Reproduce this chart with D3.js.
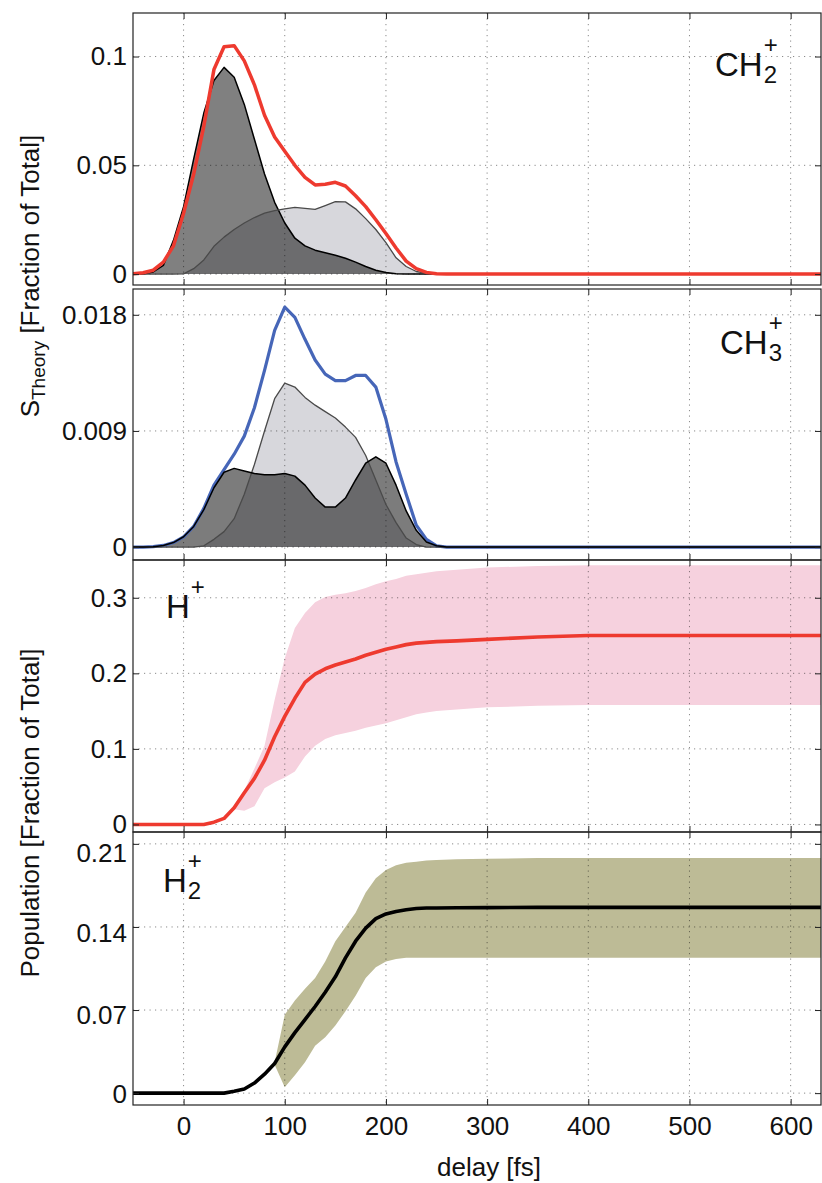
<!DOCTYPE html>
<html>
<head>
<meta charset="utf-8">
<script src="https://cdn.jsdelivr.net/npm/d3@7"></script>
<style>
  body { margin: 0; background: #fff; }
  svg { display: block; font-family: "Liberation Sans", Arial, Helvetica, sans-serif; }
</style>
</head>
<body>
<svg id="chart" width="822" height="1183"></svg>
<script>
// ---- data ----
// upper two panels: delay grid in fs
const delayA = [-50, -40, -30, -20, -10, 0, 10, 20, 30, 40, 50, 60, 70, 80, 90, 100, 110, 120, 130, 140,
                150, 160, 170, 180, 190, 200, 210, 220, 230, 240, 250, 260, 630];

const ch2Total = [0.0002, 0.0006, 0.0018, 0.0055, 0.013, 0.028, 0.046, 0.068, 0.094, 0.1045,
                  0.105, 0.098, 0.087, 0.073, 0.063, 0.0565, 0.050, 0.0445, 0.041, 0.0413,
                  0.0422, 0.0405, 0.036, 0.031, 0.025, 0.0187, 0.012, 0.006, 0.0025, 0.0008,
                  0.0002, 0, 0];
const ch2Dark = [0, 0, 0.001, 0.004, 0.0155, 0.031, 0.053, 0.074, 0.089, 0.095,
                 0.0905, 0.078, 0.062, 0.046, 0.033, 0.0235, 0.0165, 0.013, 0.011, 0.0098,
                 0.0087, 0.0073, 0.0055, 0.0035, 0.0018, 0.0007, 0.0002, 0, 0, 0,
                 0, 0, 0];
const ch2Light = [0, 0, 0, 0, 0, 0.0001, 0.0025, 0.0065, 0.0128, 0.017,
                  0.0205, 0.0235, 0.026, 0.028, 0.0292, 0.030, 0.0307, 0.0302, 0.0298, 0.0315,
                  0.0333, 0.0332, 0.030, 0.0255, 0.0205, 0.0145, 0.0075, 0.0035, 0.0012, 0.0003,
                  0, 0, 0];

const ch3Total = [0, 0, 0.00003, 0.00013, 0.00035, 0.0008, 0.0016, 0.003, 0.0048, 0.006,
                  0.0072, 0.0086, 0.0108, 0.0137, 0.0168, 0.0186, 0.0178, 0.0161, 0.0145, 0.0134,
                  0.0129, 0.0129, 0.0133, 0.0133, 0.0124, 0.0099, 0.0066, 0.0041, 0.0017, 0.0006,
                  0.0001, 0, 0];
const ch3Dark = [0, 0, 0.00003, 0.00013, 0.00035, 0.0008, 0.0016, 0.0029, 0.0046, 0.0058,
                 0.0061, 0.0059, 0.0057, 0.0056, 0.0056, 0.0057, 0.0055, 0.0048, 0.0038, 0.0031,
                 0.0031, 0.0038, 0.0052, 0.0065, 0.007, 0.0065, 0.0048, 0.0028, 0.0013, 0.0004,
                 0.0001, 0, 0];
const ch3Light = [0, 0, 0, 0, 0, 0, 0, 0.0001, 0.0006, 0.0012,
                  0.0022, 0.0041, 0.0064, 0.009, 0.0115, 0.0127, 0.0124, 0.0116, 0.011, 0.0105,
                  0.01, 0.0093, 0.0085, 0.0071, 0.0052, 0.0033, 0.0019, 0.0007, 0.0002, 0,
                  0, 0, 0];

// lower two panels: delay grid in fs
const delayB = [-50, -40, -30, -20, -10, 0, 10, 20, 30, 40, 50, 60, 70, 80, 90, 100, 110, 120, 130, 140,
                150, 160, 170, 180, 190, 200, 210, 220, 230, 240, 250, 270, 300, 350, 400, 500, 630];

const hLine = [0, 0, 0, 0, 0, 0, 0, 0, 0.003, 0.008,
               0.022, 0.042, 0.061, 0.085, 0.116, 0.143, 0.167, 0.188, 0.199, 0.206,
               0.211, 0.215, 0.219, 0.224, 0.228, 0.232, 0.235, 0.238, 0.24, 0.241,
               0.242, 0.243, 0.245, 0.248, 0.25, 0.25, 0.25];
const hUpper = [null, null, null, null, null, null, null, null, null, null,
                0.024, 0.045, 0.074, 0.104, 0.165, 0.22, 0.26, 0.28, 0.294, 0.301,
                0.304, 0.306, 0.309, 0.313, 0.318, 0.322, 0.325, 0.329, 0.331, 0.333,
                0.335, 0.337, 0.34, 0.342, 0.343, 0.343, 0.343];
const hLower = [null, null, null, null, null, null, null, null, null, null,
                0.02, 0.018, 0.024, 0.048, 0.056, 0.062, 0.07, 0.09, 0.104, 0.113,
                0.118, 0.121, 0.124, 0.128, 0.131, 0.134, 0.138, 0.142, 0.146, 0.148,
                0.15, 0.152, 0.155, 0.157, 0.158, 0.158, 0.158];

const h2Line = [0, 0, 0, 0, 0, 0, 0, 0, 0, 0,
                0.0015, 0.0035, 0.0085, 0.016, 0.025, 0.039, 0.051, 0.062, 0.073, 0.085,
                0.098, 0.114, 0.128, 0.139, 0.147, 0.151, 0.153, 0.1545, 0.1555, 0.156,
                0.156, 0.1562, 0.1563, 0.1565, 0.1565, 0.1565, 0.1565];
const h2Upper = [null, null, null, null, null, null, null, null, null, null,
                 null, null, null, null, 0.026, 0.066, 0.078, 0.088, 0.097, 0.111,
                 0.128, 0.14, 0.152, 0.169, 0.181, 0.188, 0.192, 0.194, 0.195, 0.196,
                 0.1965, 0.197, 0.1975, 0.198, 0.198, 0.198, 0.198];
const h2Lower = [null, null, null, null, null, null, null, null, null, null,
                 null, null, null, null, 0.024, 0.005, 0.015, 0.026, 0.04, 0.047,
                 0.057, 0.069, 0.082, 0.097, 0.106, 0.111, 0.113, 0.114, 0.114, 0.114,
                 0.114, 0.114, 0.114, 0.114, 0.114, 0.114, 0.114];

const xTicks = [0, 100, 200, 300, 400, 500, 600];
const ch2Ticks = [0, 0.05, 0.1];
const ch3Ticks = [0, 0.009, 0.018];
const hTicks = [0, 0.1, 0.2, 0.3];
const h2Ticks = [0, 0.07, 0.14, 0.21];

// ---- layout ----
const svg = d3.select('#chart');
const left = 133, right = 821;
const x = d3.scaleLinear().domain([-50, 630]).range([left, right]);

const panels = [
    { id: 'p1', top: 13, bottom: 285, domain: [-0.005, 0.12], ticks: ch2Ticks },
    { id: 'p2', top: 289, bottom: 560, domain: [-0.001, 0.02], ticks: ch3Ticks },
    { id: 'p3', top: 560, bottom: 832, domain: [-0.01, 0.35], ticks: hTicks },
    // the labels of the bottom panel sit a little lower than their ticks in the original
    { id: 'p4', top: 832, bottom: 1105, domain: [-0.01, 0.22], ticks: h2Ticks, xLabels: true,
      labelShift: [1, 5, 6, 9] }
];

const defs = svg.append('defs');

panels.forEach(p => {
    p.y = d3.scaleLinear().domain(p.domain).range([p.bottom, p.top]);
    defs.append('clipPath').attr('id', 'clip-' + p.id)
        .append('rect')
        .attr('x', left).attr('y', p.top)
        .attr('width', right - left).attr('height', p.bottom - p.top);
    p.g = svg.append('g');
    p.plot = p.g.append('g').attr('clip-path', `url(#clip-${p.id})`);

    // dotted grid
    const grid = p.plot.append('g').attr('class', 'grid');
    xTicks.forEach(t => {
        grid.append('line')
            .attr('x1', x(t)).attr('x2', x(t))
            .attr('y1', p.top).attr('y2', p.bottom);
    });
    p.ticks.forEach(t => {
        grid.append('line')
            .attr('x1', left).attr('x2', right)
            .attr('y1', p.y(t)).attr('y2', p.y(t));
    });
    grid.selectAll('line')
        .attr('stroke', '#8a8a8a')
        .attr('stroke-width', 1)
        .attr('stroke-dasharray', '1.2,4.3');
});

function series(xs, ys) {
    return xs.map((d, i) => ({ x: d, y: ys[i] }));
}

function bandSeries(xs, lo, hi) {
    return xs.map((d, i) => ({ x: d, lo: lo[i], hi: hi[i] }));
}

function drawArea(p, data, fill) {
    const area = d3.area().x(d => x(d.x)).y0(p.y(0)).y1(d => p.y(d.y));
    p.plot.append('path')
        .datum(data)
        .attr('d', area)
        .attr('fill', fill)
        .style('mix-blend-mode', 'multiply');
}

function drawLine(p, data, color, width) {
    const line = d3.line().x(d => x(d.x)).y(d => p.y(d.y));
    p.plot.append('path')
        .datum(data)
        .attr('d', line)
        .attr('fill', 'none')
        .attr('stroke', color)
        .attr('stroke-width', width)
        .attr('stroke-linejoin', 'round');
}

function drawBand(p, data, fill) {
    const area = d3.area()
        .defined(d => d.lo !== null)
        .x(d => x(d.x)).y0(d => p.y(d.lo)).y1(d => p.y(d.hi));
    p.plot.append('path')
        .datum(data)
        .attr('d', area)
        .attr('fill', fill)
        .style('mix-blend-mode', 'multiply');
}

// panel 1: CH2+
const p1 = panels[0];
drawArea(p1, series(delayA, ch2Dark), '#808080');
drawArea(p1, series(delayA, ch2Light), '#d7d7dc');
drawLine(p1, series(delayA, ch2Dark), '#000', 1.5);
drawLine(p1, series(delayA, ch2Light), '#4a4a4a', 1.3);
drawLine(p1, series(delayA, ch2Total), '#ee3a2f', 3.5);

// panel 2: CH3+
const p2 = panels[1];
drawArea(p2, series(delayA, ch3Dark), '#7c7c7c');
drawArea(p2, series(delayA, ch3Light), '#d7d7dc');
drawLine(p2, series(delayA, ch3Total), '#4666b8', 3.2);
drawLine(p2, series(delayA, ch3Light), '#4a4a4a', 1.3);
drawLine(p2, series(delayA, ch3Dark), '#000', 1.5);

// panel 3: H+
const p3 = panels[2];
drawBand(p3, bandSeries(delayB, hLower, hUpper), '#f6d1de');
drawLine(p3, series(delayB, hLine), '#ee3a2f', 3.6);

// panel 4: H2+
const p4 = panels[3];
drawBand(p4, bandSeries(delayB, h2Lower, h2Upper), '#bdbb96');
drawLine(p4, series(delayB, h2Line), '#000', 3.6);

// frames, inward ticks, tick labels
panels.forEach(p => {
    const h = p.bottom - p.top;
    const axes = p.g.append('g').attr('class', 'axes');

    axes.append('g').attr('transform', `translate(0,${p.bottom})`)
        .call(d3.axisBottom(x).tickValues(xTicks).tickSize(-6).tickPadding(12)
            .tickFormat(p.xLabels ? d3.format('d') : ''));
    axes.append('g').attr('transform', `translate(0,${p.top})`)
        .call(d3.axisTop(x).tickValues(xTicks).tickSize(-6).tickFormat(''));
    const yAxis = axes.append('g').attr('transform', `translate(${left},0)`)
        .call(d3.axisLeft(p.y).tickValues(p.ticks).tickSize(-6).tickPadding(6)
            .tickFormat(d => d === 0 ? '0' : String(+d.toFixed(4))));
    axes.append('g').attr('transform', `translate(${right},0)`)
        .call(d3.axisRight(p.y).tickValues(p.ticks).tickSize(-6).tickFormat(''));

    if (p.labelShift) {
        yAxis.selectAll('.tick text').attr('y', (d, i) => p.labelShift[i]);
    }

    axes.selectAll('.domain').remove();
    axes.selectAll('.tick line').attr('stroke', '#222').attr('stroke-width', 1);
    axes.selectAll('text')
        .attr('font-size', 26)
        .attr('font-family', '"Liberation Sans", Arial, sans-serif')
        .attr('fill', '#111');

    axes.append('rect')
        .attr('x', left).attr('y', p.top)
        .attr('width', right - left).attr('height', h)
        .attr('fill', 'none')
        .attr('stroke', '#222')
        .attr('stroke-width', 1.2);
});

// species labels: main text with stacked sub/superscript
function speciesLabel(xPos, baseline, main, sub, sup) {
    const t = svg.append('text')
        .attr('x', xPos).attr('y', baseline)
        .attr('font-size', 33)
        .attr('fill', '#111')
        .text(main);
    const w = t.node().getComputedTextLength();
    if (sub) {
        svg.append('text')
            .attr('x', xPos + w + 1).attr('y', baseline + 7)
            .attr('font-size', 24).attr('fill', '#111')
            .text(sub);
    }
    if (sup) {
        svg.append('text')
            .attr('x', xPos + w + 1).attr('y', baseline - 23)
            .attr('font-size', 24).attr('fill', '#111')
            .text(sup);
    }
}

speciesLabel(715, 76, 'CH', '2', '+');
speciesLabel(720, 354, 'CH', '3', '+');
speciesLabel(166, 618, 'H', null, '+');
speciesLabel(163, 892, 'H', '2', '+');

// axis titles
const sLabel = svg.append('text')
    .attr('transform', 'translate(39,276) rotate(-90)')
    .attr('text-anchor', 'middle')
    .attr('font-size', 26)
    .attr('fill', '#111');
sLabel.append('tspan').text('S');
sLabel.append('tspan').attr('font-size', 19).attr('dy', 6).text('Theory');
sLabel.append('tspan').attr('dy', -6).text(' [Fraction of Total]');

svg.append('text')
    .attr('transform', 'translate(39,813) rotate(-90)')
    .attr('text-anchor', 'middle')
    .attr('font-size', 26)
    .attr('fill', '#111')
    .text('Population [Fraction of Total]');

svg.append('text')
    .attr('x', 489).attr('y', 1176)
    .attr('text-anchor', 'middle')
    .attr('font-size', 26)
    .attr('fill', '#111')
    .text('delay [fs]');
</script>
</body>
</html>
